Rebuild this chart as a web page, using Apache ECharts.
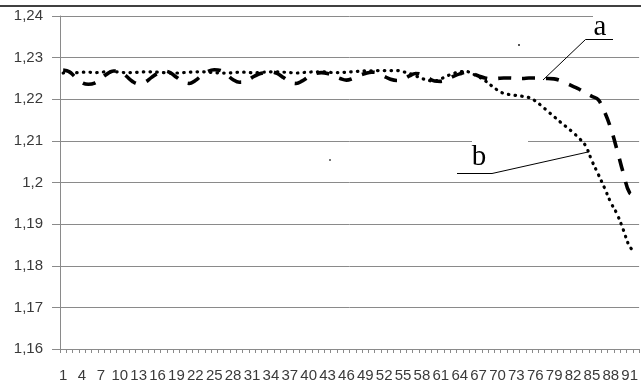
<!DOCTYPE html>
<html>
<head>
<meta charset="utf-8">
<script src="https://cdn.jsdelivr.net/npm/echarts@6/dist/echarts.min.js"></script>
<style>
html,body{margin:0;padding:0;background:#fff;}
#chart{width:641px;height:383px;}
</style>
</head>
<body>
<div id="chart"></div>
<script>
const categories = ["1","2","3","4","5","6","7","8","9","10","11","12","13","14","15","16","17","18","19","20",
"21","22","23","24","25","26","27","28","29","30","31","32","33","34","35","36","37","38","39","40",
"41","42","43","44","45","46","47","48","49","50","51","52","53","54","55","56","57","58","59","60",
"61","62","63","64","65","66","67","68","69","70","71","72","73","74","75","76","77","78","79","80",
"81","82","83","84","85","86","87","88","89","90","91","92"];

const seriesA = [
1.2270,1.2266,1.2252,1.2240,1.2236,1.2239,1.2250,1.2261,1.2268,1.2266,
1.2256,1.2243,1.2237,1.2241,1.2252,1.2262,1.2268,1.2264,1.2253,1.2243,
1.2238,1.2245,1.2257,1.2267,1.2271,1.2269,1.2259,1.2247,1.2241,1.2243,
1.2252,1.2260,1.2264,1.2266,1.2262,1.2252,1.2242,1.2238,1.2244,1.2254,
1.2261,1.2264,1.2262,1.2256,1.2250,1.2246,1.2250,1.2257,1.2262,1.2265,
1.2263,1.2255,1.2248,1.2245,1.2248,1.2256,1.2262,1.2259,1.2251,1.2244,
1.2243,1.2248,1.2255,1.2261,1.2265,1.2262,1.2256,1.2251,1.2249,1.2250,
1.2251,1.2251,1.2250,1.2250,1.2251,1.2251,1.2250,1.2250,1.2249,1.2245,
1.2238,1.2231,1.2224,1.2215,1.2207,1.2199,1.2170,1.2130,1.2078,1.2022,
1.1975,1.1970];

const seriesB = [
1.2263,1.2264,1.2264,1.2265,1.2265,1.2264,1.2265,1.2266,1.2266,1.2265,
1.2264,1.2264,1.2265,1.2266,1.2266,1.2265,1.2264,1.2263,1.2263,1.2264,
1.2265,1.2266,1.2266,1.2265,1.2264,1.2263,1.2263,1.2264,1.2265,1.2265,
1.2264,1.2264,1.2265,1.2266,1.2266,1.2265,1.2264,1.2263,1.2264,1.2265,
1.2266,1.2266,1.2265,1.2264,1.2264,1.2265,1.2266,1.2267,1.2268,1.2268,
1.2269,1.2269,1.2269,1.2269,1.2266,1.2262,1.2256,1.2250,1.2245,1.2244,
1.2249,1.2256,1.2262,1.2266,1.2267,1.2261,1.2254,1.2245,1.2233,1.2222,
1.2214,1.2211,1.2209,1.2207,1.2204,1.2196,1.2184,1.2171,1.2158,1.2145,
1.2133,1.2120,1.2106,1.2088,1.2052,1.2020,1.1987,1.1952,1.1924,1.1886,
1.1846,1.1832];

const yTickValues = [1.16,1.17,1.18,1.19,1.20,1.21,1.22,1.23,1.24];
const yTickLabels = ["1,16","1,17","1,18","1,19","1,2","1,21","1,22","1,23","1,24"];

const chart = echarts.init(document.getElementById('chart'), null, {renderer:'canvas'});
const gray = '#8a8a8a';
const labelFont = '"Liberation Sans", Arial, sans-serif';

chart.setOption({
  animation:false,
  backgroundColor:'#ffffff',
  grid:{left:60, top:16, right:-2, bottom:31, containLabel:false},
  xAxis:{
    type:'category',
    data:categories,
    boundaryGap:true,
    axisLine:{lineStyle:{color:gray, width:1}},
    axisTick:{show:true, interval:0, length:4, lineStyle:{color:gray}},
    axisLabel:{interval:2, fontSize:15, fontFamily:labelFont, color:'#3a3a3a', margin:19},
    splitLine:{show:false}
  },
  yAxis:{
    type:'value',
    min:1.16, max:1.24, interval:0.01,
    axisLine:{show:true, lineStyle:{color:gray, width:1}},
    axisTick:{show:true, length:8, lineStyle:{color:gray}},
    splitLine:{show:true, lineStyle:{color:gray, width:1}},
    axisLabel:{fontSize:15, fontFamily:labelFont, color:'#3a3a3a', margin:17,
      formatter:function(v){
        for (let i=0;i<yTickValues.length;i++){ if (Math.abs(v-yTickValues[i])<1e-6) return yTickLabels[i]; }
        return '';
      }}
  },
  series:[
    {name:'a', type:'line', data:seriesA, showSymbol:false, smooth:0.4,
     lineStyle:{color:'#000', width:3.6, type:[13,11], cap:'butt'}, z:3},
    {name:'b', type:'line', data:seriesB, showSymbol:false, smooth:0.4,
     lineStyle:{color:'#000', width:3.2, type:[0.5,6.2], cap:'round'}, z:4}
  ],
  graphic:[
    {type:'line', shape:{x1:0,y1:6,x2:641,y2:6}, style:{stroke:'#000', lineWidth:1.6}, z:100},
    {type:'rect', shape:{x:593,y:9,width:50,height:36}, style:{fill:'#fff'}, z:90},
    {type:'rect', shape:{x:472,y:132,width:56,height:38}, style:{fill:'#fff'}, z:90},
    {type:'text', style:{text:'a', x:600, y:27, font:'29px "Liberation Serif", "Times New Roman", serif', fill:'#000', align:'center', verticalAlign:'middle'}, z:101},
    {type:'line', shape:{x1:585.5,y1:39.5,x2:613,y2:39.5}, style:{stroke:'#000', lineWidth:1}, z:101},
    {type:'line', shape:{x1:585.5,y1:39.5,x2:543,y2:80}, style:{stroke:'#000', lineWidth:1}, z:101},
    {type:'text', style:{text:'b', x:479, y:157, font:'29px "Liberation Serif", "Times New Roman", serif', fill:'#000', align:'center', verticalAlign:'middle'}, z:101},
    {type:'line', shape:{x1:457,y1:173.5,x2:492,y2:173.5}, style:{stroke:'#000', lineWidth:1}, z:101},
    {type:'line', shape:{x1:492,y1:173.5,x2:588,y2:152}, style:{stroke:'#000', lineWidth:1}, z:101},
    {type:'rect', shape:{x:518,y:44,width:2,height:2}, style:{fill:'#555'}, z:101},
    {type:'rect', shape:{x:329,y:159,width:2,height:2}, style:{fill:'#777'}, z:101}
  ]
});
</script>
</body>
</html>
